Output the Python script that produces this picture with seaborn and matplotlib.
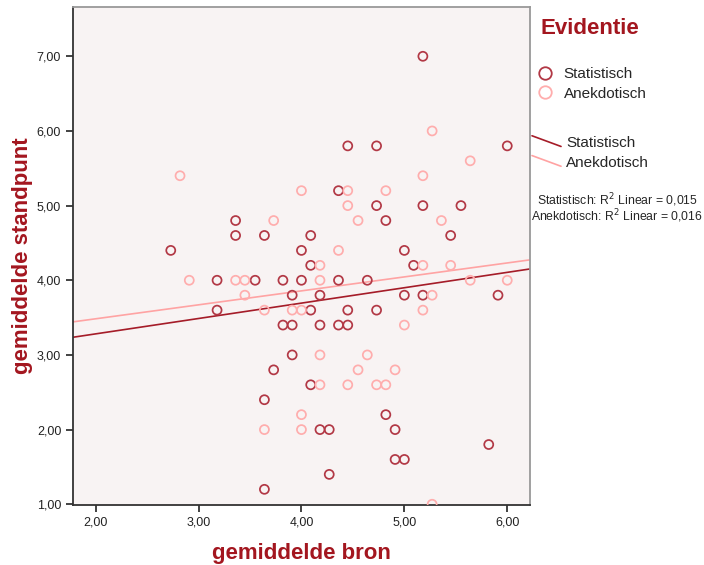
import pandas as pd
import matplotlib
matplotlib.use('Agg')
import matplotlib.pyplot as plt
import seaborn as sns
from matplotlib.lines import Line2D
from matplotlib.legend_handler import HandlerBase
from matplotlib.ticker import FuncFormatter

stat_x = [5.18, 4.45, 4.73, 6.00, 4.36, 4.73, 5.18, 5.55, 3.36, 4.82,
          3.36, 3.64, 4.09, 5.45, 2.73, 4.00, 5.00, 4.09, 5.09, 3.18,
          3.55, 3.82, 4.00, 4.36, 4.64, 3.91, 4.18, 5.00, 5.18, 5.91,
          3.18, 4.09, 4.45, 4.73, 3.82, 3.91, 4.18, 4.36, 4.45, 3.91,
          3.73, 4.09, 3.64, 4.82, 4.18, 4.27, 4.91, 5.82, 4.91, 5.00,
          4.27, 3.64]
stat_y = [7.0, 5.8, 5.8, 5.8, 5.2, 5.0, 5.0, 5.0, 4.8, 4.8,
          4.6, 4.6, 4.6, 4.6, 4.4, 4.4, 4.4, 4.2, 4.2, 4.0,
          4.0, 4.0, 4.0, 4.0, 4.0, 3.8, 3.8, 3.8, 3.8, 3.8,
          3.6, 3.6, 3.6, 3.6, 3.4, 3.4, 3.4, 3.4, 3.4, 3.0,
          2.8, 2.6, 2.4, 2.2, 2.0, 2.0, 2.0, 1.8, 1.6, 1.6,
          1.4, 1.2]

anek_x = [5.27, 5.64, 2.82, 5.18, 4.00, 4.45, 4.82, 4.45, 3.73, 4.55,
          5.36, 4.36, 4.18, 5.18, 5.45, 2.91, 3.36, 3.45, 4.18, 5.64,
          6.00, 3.45, 5.27, 3.64, 3.91, 4.00, 5.18, 5.00, 4.18, 4.64,
          4.55, 4.91, 4.18, 4.45, 4.73, 4.82, 4.00, 3.64, 4.00, 5.27]
anek_y = [6.0, 5.6, 5.4, 5.4, 5.2, 5.2, 5.2, 5.0, 4.8, 4.8,
          4.8, 4.4, 4.2, 4.2, 4.2, 4.0, 4.0, 4.0, 4.0, 4.0,
          4.0, 3.8, 3.8, 3.6, 3.6, 3.6, 3.6, 3.4, 3.0, 3.0,
          2.8, 2.8, 2.6, 2.6, 2.6, 2.6, 2.2, 2.0, 2.0, 1.0]

# fit lines (intercept, slope) as shown in the picture
stat_fit = (2.87, 0.206)
anek_fit = (3.11, 0.187)
r2_text = ['Statistisch: R$^2$ Linear = 0,015', 'Anekdotisch: R$^2$ Linear = 0,016']

groups = ['Statistisch', 'Anekdotisch']
colors = {'Statistisch': '#b23845', 'Anekdotisch': '#ffadad'}
line_colors = {'Statistisch': '#a51c28', 'Anekdotisch': '#ffa3a3'}
red = '#a3161f'


class DiagLine(HandlerBase):
    # legend key drawn as a short descending line, like the original
    def create_artists(self, legend, orig, xdescent, ydescent, width, height, fontsize, trans):
        ln = Line2D([-xdescent, width - xdescent], [height * 1.05, height * 0.05],
                    color=orig.get_color(), lw=orig.get_linewidth(), transform=trans)
        return [ln]


df = pd.DataFrame({
    'bron': stat_x + anek_x,
    'standpunt': stat_y + anek_y,
    'Evidentie': ['Statistisch'] * len(stat_x) + ['Anekdotisch'] * len(anek_x),
})

sns.set_style('white')
plt.rcParams['font.family'] = ['Liberation Sans', 'DejaVu Sans']

fig = plt.figure(figsize=(7.04, 5.65), dpi=100)
ax = fig.add_axes([0.1037, 0.1062, 0.649, 0.8814])
ax.set_facecolor('#f8f3f3')

xlim = (1.78, 6.22)
for g in groups:
    sub = df[df['Evidentie'] == g]
    sns.scatterplot(x='bron', y='standpunt', data=sub, ax=ax, s=42,
                    color=colors[g], facecolor='none', edgecolor=colors[g],
                    linewidth=1.25, zorder=3)

for g, (a, b) in zip(groups, [stat_fit, anek_fit]):
    ax.plot(xlim, [a + b * xlim[0], a + b * xlim[1]], color=line_colors[g], lw=1.2, zorder=2)

ax.set_xlim(*xlim)
ax.set_ylim(0.99, 7.66)
ax.set_xticks([2, 3, 4, 5, 6])
ax.set_yticks([1, 2, 3, 4, 5, 6, 7])
fmt = FuncFormatter(lambda v, p: f'{v:.2f}'.replace('.', ','))
ax.xaxis.set_major_formatter(fmt)
ax.yaxis.set_major_formatter(fmt)
ax.tick_params(direction='out', length=5, width=1.2, color='#222222', labelsize=9,
               labelcolor='#222222', bottom=True, left=True)

for s in ['left', 'bottom']:
    ax.spines[s].set_color('#333333')
    ax.spines[s].set_linewidth(1.3)
for s in ['top', 'right']:
    ax.spines[s].set_color('#999999')
    ax.spines[s].set_linewidth(1.3)

ax.set_xlabel('gemiddelde bron', fontsize=16, fontweight='bold', color=red, labelpad=10)
ax.set_ylabel('gemiddelde standpunt', fontsize=16, fontweight='bold', color=red, labelpad=3)

# legend area
fig.text(540 / 704, 1 - 29 / 565, 'Evidentie', fontsize=16, fontweight='bold',
         color=red, va='center', ha='left')

marker_handles = [Line2D([], [], marker='o', ls='none', mfc='none', mec=colors[g], ms=9, mew=1.3)
                  for g in groups]
leg1 = fig.legend(marker_handles, groups, loc='upper left', bbox_to_anchor=(537 / 704, 1 - 67 / 565),
                  frameon=False, fontsize=11, handlelength=1.0, handletextpad=0.75,
                  labelspacing=0.38, borderpad=0, borderaxespad=0)

line_handles = [Line2D([], [], color=line_colors[g], lw=1.2) for g in groups]
leg2 = fig.legend(line_handles, groups, loc='upper left', bbox_to_anchor=(532 / 704, 1 - 136 / 565),
                  frameon=False, fontsize=11, handlelength=1.9, handletextpad=0.35,
                  labelspacing=0.38, borderpad=0, borderaxespad=0,
                  handler_map={Line2D: DiagLine()})

fig.text(617 / 704, 1 - 200 / 565, r2_text[0], fontsize=8.8, ha='center', va='center')
fig.text(617 / 704, 1 - 216 / 565, r2_text[1], fontsize=8.8, ha='center', va='center')

fig.savefig('out.png', dpi=100)
